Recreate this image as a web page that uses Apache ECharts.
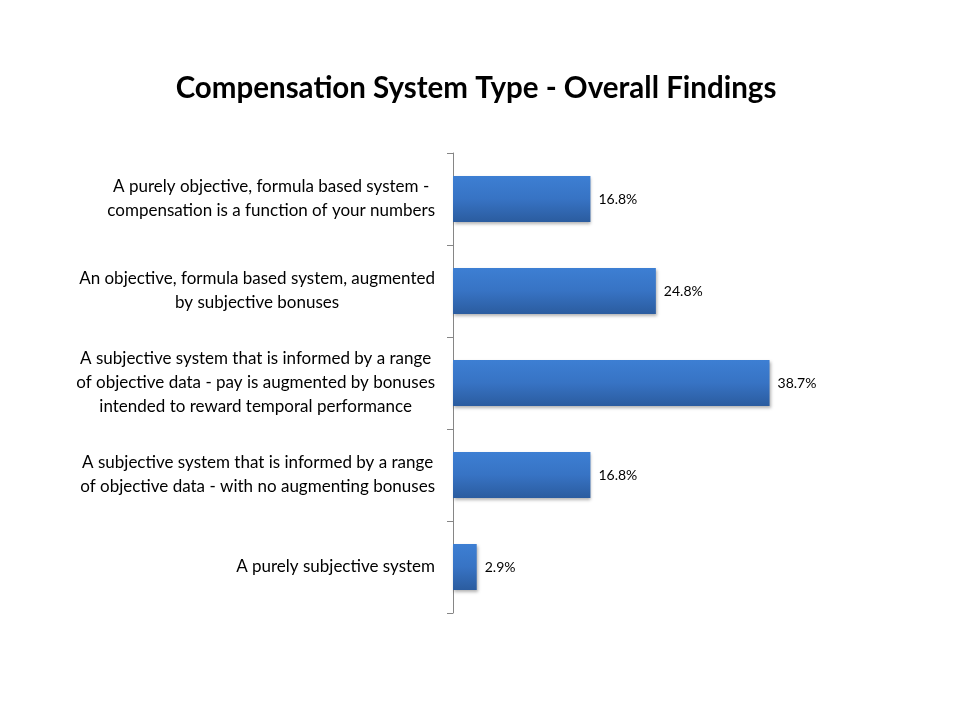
<!DOCTYPE html>
<html>
<head>
<meta charset="utf-8">
<script src="https://cdn.jsdelivr.net/npm/echarts@6/dist/echarts.min.js"></script>
<style>
  html, body { margin: 0; padding: 0; background: #ffffff; }
  #chart { width: 960px; height: 720px; }
</style>
</head>
<body>
<div id="chart"></div>
<script>
// categories, top to bottom
var categories = [
  "A purely objective, formula based system -\ncompensation is a function of your numbers",
  "An objective, formula based system, augmented\nby subjective bonuses",
  "A subjective system that is informed by a range\nof objective data - pay is augmented by bonuses\nintended to reward temporal performance",
  "A subjective system that is informed by a range\nof objective data - with no augmenting bonuses",
  "A purely subjective system"
];
// percent of respondents
var shares = [16.8, 24.8, 38.7, 16.8, 2.9];

var FONT = "Lato, 'Open Sans', sans-serif";

var myChart = echarts.init(document.getElementById("chart"));
var options = {
  backgroundColor: "#ffffff",
  title: {
    text: "Compensation System Type - Overall Findings",
    left: 471,
    top: 68,
    textAlign: "center",
    textStyle: {
      fontFamily: FONT,
      fontSize: 29.5,
      fontWeight: "bold",
      color: "#000000",
    },
  },
  grid: {
    left: 453,
    top: 153,
    right: 98,
    bottom: 107,
  },
  xAxis: {
    type: "value",
    min: 0,
    max: 50,
    show: false,
  },
  yAxis: {
    type: "category",
    inverse: true,
    data: categories,
    axisLine: {
      show: true,
      lineStyle: { color: "#868686", width: 1 },
    },
    axisTick: {
      show: true,
      length: 6,
      lineStyle: { color: "#868686" },
    },
    axisLabel: {
      margin: 18,
      align: "right",
      fontFamily: FONT,
      fontSize: 17,
      color: "#000000",
      lineHeight: 24,
      formatter: function (v) {
        // center each line inside the right-aligned block
        return v.split("\n").map(function (s) { return "{c|" + s + "}"; }).join("\n");
      },
      rich: {
        c: {
          align: "center",
          fontFamily: FONT,
          fontSize: 17,
          lineHeight: 24,
          color: "#000000",
        },
      },
    },
  },
  series: [
    {
      type: "bar",
      data: shares,
      barWidth: 46,
      itemStyle: {
        color: new echarts.graphic.LinearGradient(0, 0, 0, 1, [
          { offset: 0, color: "#3d7fd3" },
          { offset: 0.5, color: "#3773c4" },
          { offset: 1, color: "#2b5c9f" },
        ]),
        shadowColor: "rgba(0,0,0,0.3)",
        shadowBlur: 3,
        shadowOffsetX: 1,
        shadowOffsetY: 2,
      },
      label: {
        show: true,
        position: "right",
        distance: 8,
        formatter: "{c}%",
        fontFamily: FONT,
        fontSize: 14,
        color: "#000000",
      },
    },
  ],
};
myChart.setOption(options);
</script>
</body>
</html>
